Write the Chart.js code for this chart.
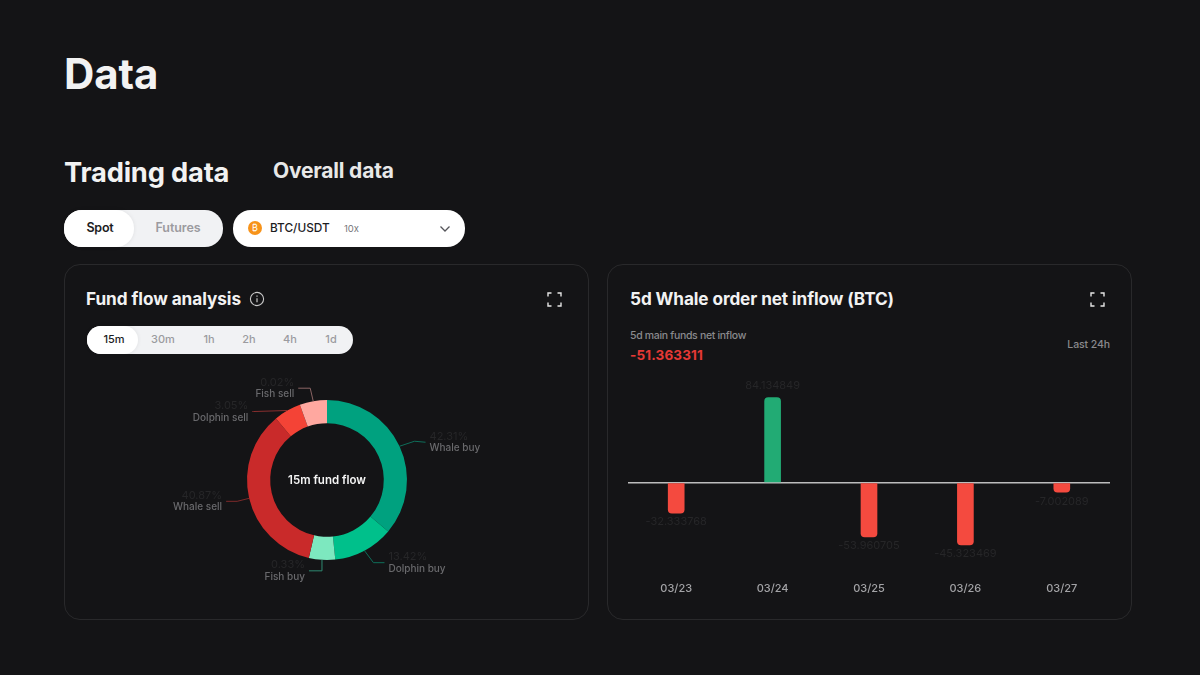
<!DOCTYPE html>
<html>
<head>
<meta charset="utf-8">
<title>Data</title>
<script src="https://cdn.jsdelivr.net/npm/chart.js@4/dist/chart.umd.min.js"></script>
<style>
  * { box-sizing: border-box; margin: 0; padding: 0; }
  body { width: 1200px; height: 675px; background: #141416; color: #f2f2f2; font-family: Inter, "Noto Sans", sans-serif; overflow: hidden; position: relative; }
  .abs { position: absolute; white-space: nowrap; }
  .card { position: absolute; top: 264px; width: 525px; height: 356px; border: 1px solid #29292b; border-radius: 16px; }
  .pill { position: absolute; background: #f1f2f4; border-radius: 18px; }
  .pill-on { position: absolute; background: #fff; border-radius: 18px; box-shadow: 0 0 4px rgba(0,0,0,.08); }
  .center { transform: translateX(-50%); }
  canvas { position: absolute; }
</style>
</head>
<body>
<div class="abs" style="left:64px;top:49px;font-size:42px;line-height:50px;font-weight:700;letter-spacing:-.1px">Data</div>
<div class="abs" style="left:64px;top:155px;font-size:27.3px;line-height:36px;font-weight:700;letter-spacing:-.2px">Trading data</div>
<div class="abs" style="left:273px;top:156px;font-size:21px;line-height:30px;font-weight:700;letter-spacing:-.2px;color:#e8e8e8">Overall data</div>

<div class="pill" style="left:64px;top:210px;width:159px;height:37px"></div>
<div class="pill-on" style="left:64px;top:210px;width:70px;height:37px"></div>
<div class="abs center" style="left:100px;top:219px;font-size:12.5px;line-height:18px;font-weight:600;letter-spacing:-.2px;color:#1d1d1f">Spot</div>
<div class="abs center" style="left:178px;top:219px;font-size:12.5px;line-height:18px;font-weight:600;letter-spacing:-.1px;color:#9b9b9f">Futures</div>

<div class="pill" style="left:233px;top:210px;width:232px;height:37px;background:#fff"></div>
<div class="abs" style="left:248px;top:221px;width:14px;height:14px;border-radius:50%;background:#f7931a;color:#fff;font-size:9px;line-height:14px;text-align:center">₿</div>
<div class="abs" style="left:270px;top:219px;font-size:11.8px;line-height:18px;font-weight:500;color:#1d1d1f">BTC/USDT</div>
<div class="abs" style="left:344px;top:222px;font-size:9.5px;line-height:14px;color:#77777b">10x</div>
<svg class="abs" style="left:439px;top:225px" width="12" height="8" viewBox="0 0 12 8"><path d="M1.5 1.5 L6 6 L10.5 1.5" fill="none" stroke="#55555a" stroke-width="1.3"/></svg>

<div class="card" style="left:64px"></div>
<div class="card" style="left:607px"></div>

<div class="abs" style="left:86px;top:288px;font-size:17.2px;line-height:22px;font-weight:700;letter-spacing:-.06px">Fund flow analysis</div>
<svg class="abs" style="left:249px;top:291px" width="16" height="16" viewBox="0 0 16 16"><circle cx="8" cy="8" r="6.6" fill="none" stroke="#c8c8c8" stroke-width="1.1"/><path d="M8 7.2 V11.2 M8 4.6 V5.8" stroke="#c8c8c8" stroke-width="1.2"/></svg>
<svg class="abs" style="left:547px;top:292px" width="15" height="15" viewBox="0 0 15 15"><path d="M1 4.5 V1 H4.5 M10.5 1 H14 V4.5 M14 10.5 V14 H10.5 M4.5 14 H1 V10.5" fill="none" stroke="#e6e6e6" stroke-width="1.4"/></svg>
<svg class="abs" style="left:1090px;top:292px" width="15" height="15" viewBox="0 0 15 15"><path d="M1 4.5 V1 H4.5 M10.5 1 H14 V4.5 M14 10.5 V14 H10.5 M4.5 14 H1 V10.5" fill="none" stroke="#e6e6e6" stroke-width="1.4"/></svg>

<div class="pill" style="left:87px;top:326px;width:266px;height:28px"></div>
<div class="pill-on" style="left:87px;top:326px;width:51px;height:28px"></div>
<div id="ranges"></div>

<div class="abs" style="left:630px;top:288px;font-size:17.2px;line-height:22px;font-weight:700;letter-spacing:-.1px">5d Whale order net inflow (BTC)</div>
<div class="abs" style="left:630px;top:329px;font-size:10.5px;line-height:14px;font-weight:500;letter-spacing:-.32px;color:#8a8a8d">5d main funds net inflow</div>
<div class="abs" style="left:630px;top:346px;font-size:13.5px;line-height:18px;font-weight:700;letter-spacing:.15px;color:#e53935">-51.363311</div>
<div class="abs" style="right:90px;top:338px;font-size:10.5px;line-height:14px;font-weight:500;letter-spacing:-.1px;color:#8a8a8d">Last 24h</div>

<canvas id="flowChart" width="480" height="240" style="left:87px;top:360px"></canvas>
<canvas id="whaleChart" width="482" height="225" style="left:628px;top:370px"></canvas>

<script>
const ranges = ["15m", "30m", "1h", "2h", "4h", "1d"];
const rangeX = [114, 163, 209, 249, 290, 331];

const flowNames = ["Whale buy", "Dolphin buy", "Fish buy", "Whale sell", "Dolphin sell", "Fish sell"];
const flowShares = [36.1, 12.2, 5.3, 35.3, 5.5, 5.5];
const flowPercents = ["42.31%", "13.42%", "0.33%", "40.87%", "3.05%", "0.02%"];
const flowColors = ["#00a17f", "#00c08b", "#7de8bf", "#c92a2a", "#f44336", "#ffa8a0"];
const leaderColors = ["#0f6e5a", "#0f6e5a", "#2f8a72", "#7d2a2a", "#8a2f2f", "#8a6464"];

const days = ["03/23", "03/24", "03/25", "03/26", "03/27"];
const inflow = [-30, 84.13, -53.5, -61.5, -9.4];
const inflowLabels = ["-32.333768", "84.134849", "-53.960705", "-45.323469", "-7.002089"];

const rangesBox = document.getElementById("ranges");
ranges.forEach((r, i) => {
  const el = document.createElement("div");
  el.className = "abs center";
  el.style.cssText = `left:${rangeX[i]}px;top:332px;font-size:11px;line-height:15px;font-weight:500;color:${i === 0 ? "#1d1d1f" : "#9b9b9f"}`;
  el.textContent = r;
  rangesBox.appendChild(el);
});

Chart.defaults.animation = false;
Chart.defaults.font.family = "Inter, 'Noto Sans', sans-serif";

// leader elbows and text side, relative to the middle of each slice's outer edge
const leaders = [
  { elbow: [15, -5], end: [26, -4], side: 1 },
  { elbow: [9, 12], end: [20, 12], side: 1 },
  { elbow: [0, 11], end: [-13, 11], side: -1 },
  { elbow: [-12, 3], end: [-23, 3], side: -1 },
  { elbow: [-34, 1], end: [-35, 1], side: -1 },
  { elbow: [-3, -13], end: [-15, -13], side: -1 }
];

const flowLabels = {
  id: "flowLabels",
  afterDraw(chart) {
    const { ctx } = chart;
    const arcs = chart.getDatasetMeta(0).data;
    ctx.save();
    arcs.forEach((arc, i) => {
      const mid = (arc.startAngle + arc.endAngle) / 2;
      const x = arc.x + Math.cos(mid) * arc.outerRadius;
      const y = arc.y + Math.sin(mid) * arc.outerRadius;
      const l = leaders[i];
      ctx.strokeStyle = leaderColors[i];
      ctx.lineWidth = 1;
      ctx.beginPath();
      ctx.moveTo(x, y);
      ctx.lineTo(x + l.elbow[0], y + l.elbow[1]);
      ctx.lineTo(x + l.end[0], y + l.end[1]);
      ctx.stroke();
      const tx = x + l.end[0] + l.side * 4;
      const ty = y + l.end[1];
      ctx.textAlign = l.side > 0 ? "left" : "right";
      ctx.textBaseline = "middle";
      ctx.font = "500 10px Inter";
      ctx.fillStyle = "#69696c";
      ctx.fillText(flowNames[i], tx, ty + 6);
      ctx.font = "11px Inter";
      ctx.fillStyle = "#262628";
      ctx.fillText(flowPercents[i], tx, ty - 6);
    });
    ctx.font = "600 11.5px Inter";
    ctx.fillStyle = "#f5f5f5";
    ctx.textAlign = "center";
    ctx.textBaseline = "middle";
    ctx.fillText("15m fund flow", arcs[0].x, arcs[0].y + 1);
    ctx.restore();
  }
};

new Chart(document.getElementById("flowChart"), {
  type: "doughnut",
  data: {
    labels: flowNames,
    datasets: [{ data: flowShares, backgroundColor: flowColors, borderWidth: 0, hoverOffset: 0 }]
  },
  options: {
    responsive: false,
    cutout: "71%",
    layout: { padding: 40 },
    plugins: { legend: { display: false }, tooltip: { enabled: false } }
  },
  plugins: [flowLabels]
});

const barLabels = {
  id: "barLabels",
  afterDatasetsDraw(chart) {
    const { ctx } = chart;
    ctx.save();
    ctx.font = "11px Inter";
    ctx.fillStyle = "#262628";
    ctx.textAlign = "center";
    ctx.textBaseline = "middle";
    chart.getDatasetMeta(0).data.forEach((bar, i) => {
      const up = inflow[i] >= 0;
      ctx.fillText(inflowLabels[i], bar.x, bar.y + (up ? -12 : 9));
    });
    ctx.restore();
  }
};

new Chart(document.getElementById("whaleChart"), {
  type: "bar",
  data: {
    labels: days,
    datasets: [{
      data: inflow,
      backgroundColor: inflow.map(v => v >= 0 ? "#22ab74" : "#f44a3f"),
      barThickness: 16,
      borderSkipped: "start",
      borderRadius: 4
    }]
  },
  options: {
    responsive: false,
    layout: { padding: { top: 11.5 } },
    plugins: { legend: { display: false }, tooltip: { enabled: false } },
    scales: {
      x: {
        grid: { display: false },
        border: { display: false },
        ticks: { color: "#a3a3a6", padding: 0, font: { size: 11, weight: 500 }, maxRotation: 0 }
      },
      y: {
        min: -90,
        max: 100,
        ticks: { display: false, stepSize: 10 },
        border: { display: false },
        grid: {
          drawTicks: false,
          lineWidth: 1.5,
          color: ctx => ctx.tick && ctx.tick.value === 0 ? "#bdbdbd" : "transparent"
        }
      }
    }
  },
  plugins: [barLabels]
});
</script>
</body>
</html>
